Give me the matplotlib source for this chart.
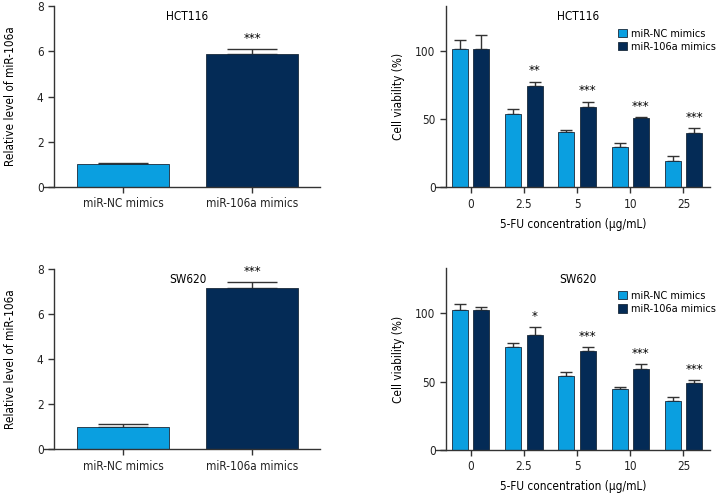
import numpy as np
import matplotlib.pyplot as plt
from matplotlib import font_manager

# pick a narrow face if one is around
narrow = [f.name for f in font_manager.fontManager.ttflist
          if f.stretch in ('condensed', 'semi-condensed', 'extra-condensed', 'ultra-condensed')
          or 'Narrow' in f.name or 'Condensed' in f.name]
fam = [narrow[0]] if narrow else []
plt.rcParams['font.family'] = fam + ['DejaVu Sans']
plt.rcParams['font.stretch'] = 'condensed'
plt.rcParams['font.size'] = 8.5

light = '#0a9fe0'
dark = '#042b56'
edge = '#1a2a3a'

# left panels: relative miR-106a level
groups = ['miR-NC mimics', 'miR-106a mimics']
hct_level = [1.0, 5.9]
hct_level_err = [0.06, 0.2]
sw_level = [1.0, 7.15]
sw_level_err = [0.12, 0.27]

# right panels: cell viability
conc = ['0', '2.5', '5', '10', '25']
hct_nc = [101.7, 53.5, 40.3, 29.6, 19.1]
hct_nc_err = [6.1, 4.2, 1.5, 3.1, 3.6]
hct_mi = [101.7, 74.3, 59.1, 50.6, 39.6]
hct_mi_err = [10.3, 3.2, 3.7, 0.7, 3.7]
hct_stars = ['', '**', '***', '***', '***']

sw_nc = [102.4, 75.1, 53.9, 44.6, 35.6]
sw_nc_err = [4.2, 2.9, 2.9, 1.3, 2.9]
sw_mi = [102.4, 84.1, 72.6, 59.0, 49.0]
sw_mi_err = [2.4, 5.7, 2.7, 3.7, 2.2]
sw_stars = ['', '*', '***', '***', '***']

W, H = 720, 493
fig = plt.figure(figsize=(7.2, 4.93), dpi=100)


def px_axes(x0, x1, ytop, ybot):
    return fig.add_axes([x0 / W, 1 - ybot / H, (x1 - x0) / W, (ybot - ytop) / H])


def style(ax, yspine_frac):
    ax.spines['top'].set_visible(False)
    ax.spines['right'].set_visible(False)
    ax.spines['left'].set_position(('axes', yspine_frac))
    for s in ['left', 'bottom']:
        ax.spines[s].set_color('#333333')
        ax.spines[s].set_linewidth(1.0)
    ax.tick_params(axis='both', direction='out', length=4, width=1.0,
                   color='#333333', labelcolor='#222222', labelsize=8.5)


def level_panel(ax, vals, errs, title, title_xy):
    x = np.arange(len(groups))
    ax.bar(x, vals, width=0.713, color=[light, dark], edgecolor=edge, linewidth=0.6, zorder=2)
    ax.errorbar(x, vals, yerr=[np.zeros(len(vals)), errs], fmt='none', ecolor='#333333',
                elinewidth=1.0, capsize=18, capthick=1.0, zorder=1)
    ax.set_xlim(-0.612, 1.527)
    ax.set_ylim(0, 8)
    ax.set_yticks([0, 2, 4, 6, 8])
    ax.set_xticks(x)
    ax.set_xticklabels(groups)
    ax.set_ylabel('Relative level of miR-106a', labelpad=14)
    style(ax, 10 / 276)
    ax.text(title_xy[0], title_xy[1], title, transform=ax.transAxes, ha='center', va='center')
    ax.text(1, vals[1] + errs[1] + 0.45, '***', ha='center', va='center', fontsize=9.5)


def viability_panel(ax, nc, nc_err, mi, mi_err, stars, title, title_y):
    x = np.arange(len(conc))
    w = 0.3
    off = 0.2
    ax.bar(x - off, nc, width=w, color=light, edgecolor=edge, linewidth=0.6,
           label='miR-NC mimics', zorder=2)
    ax.bar(x + off, mi, width=w, color=dark, edgecolor=edge, linewidth=0.6,
           label='miR-106a mimics', zorder=2)
    ax.errorbar(x - off, nc, yerr=[np.zeros(5), nc_err], fmt='none', ecolor='#333333',
                elinewidth=1.0, capsize=4.3, capthick=1.0, zorder=1)
    ax.errorbar(x + off, mi, yerr=[np.zeros(5), mi_err], fmt='none', ecolor='#333333',
                elinewidth=1.0, capsize=4.3, capthick=1.0, zorder=1)
    for i in range(len(conc)):
        if stars[i]:
            ax.text(x[i] + off, mi[i] + mi_err[i] + 8, stars[i], ha='center', va='center', fontsize=9.5)
    ax.set_xlim(-0.653, 4.5)
    ax.set_ylim(0, 133)
    ax.set_yticks([0, 50, 100])
    ax.set_xticks(x)
    ax.set_xticklabels(conc)
    ax.set_ylabel('Cell viability (%)', labelpad=7)
    ax.set_xlabel('5-FU concentration (\u03bcg/mL)', labelpad=5)
    style(ax, 10 / 274)
    ax.text(0.517, title_y, title, transform=ax.transAxes, ha='center', va='center')
    ax.legend(loc='upper left', bbox_to_anchor=(0.665, 0.875), frameon=False,
              handlelength=0.8, handleheight=0.8, handletextpad=0.4, borderpad=0,
              borderaxespad=0, labelspacing=0.3, fontsize=7.8)


ax1 = px_axes(44, 320, 6, 187)
level_panel(ax1, hct_level, hct_level_err, 'HCT116', (0.52, 0.94))

ax2 = px_axes(44, 320, 269, 449.3)
level_panel(ax2, sw_level, sw_level_err, 'SW620', (0.52, 0.94))

ax3 = px_axes(436, 710, 6, 187.3)
viability_panel(ax3, hct_nc, hct_nc_err, hct_mi, hct_mi_err, hct_stars, 'HCT116', 0.94)

ax4 = px_axes(436, 710, 268.3, 450)
viability_panel(ax4, sw_nc, sw_nc_err, sw_mi, sw_mi_err, sw_stars, 'SW620', 0.94)

fig.savefig('out.png', dpi=100)
